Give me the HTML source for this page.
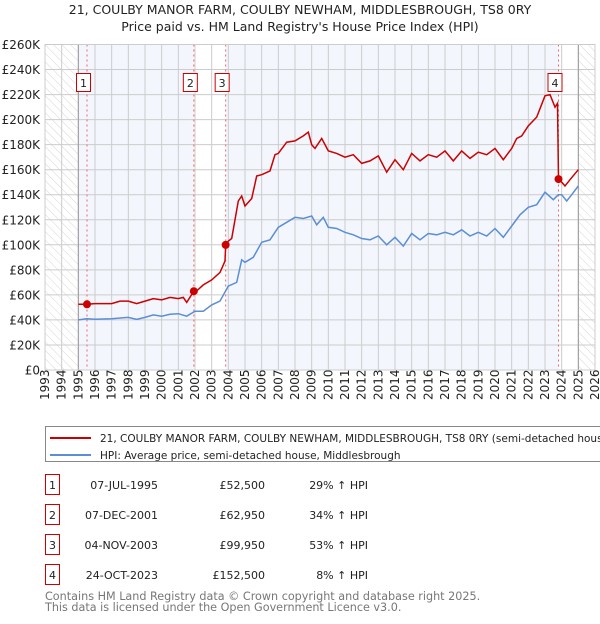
<!DOCTYPE html>
<html><head><meta charset="utf-8"><style>
body{margin:0;background:#fff;width:600px;height:620px;overflow:hidden;font-family:"DejaVu Sans","Liberation Sans",sans-serif;}
svg text{font-family:"DejaVu Sans","Liberation Sans",sans-serif;}
</style></head><body>
<svg id="chart" width="600" height="620" xmlns="http://www.w3.org/2000/svg">
<defs><pattern id="hatch" width="6" height="6" patternUnits="userSpaceOnUse" patternTransform="rotate(-45)"><line x1="0" y1="0" x2="0" y2="6" stroke="#ccc" stroke-width="0.8"/></pattern></defs>
<text x="300" y="14" text-anchor="middle" font-size="12.5" fill="#222">21, COULBY MANOR FARM, COULBY NEWHAM, MIDDLESBROUGH, TS8 0RY</text>
<text x="300" y="31" text-anchor="middle" font-size="12.5" fill="#222">Price paid vs. HM Land Registry's House Price Index (HPI)</text>
<g id="plot"></g>
<rect x="45.5" y="426.5" width="580" height="35" fill="#fff" stroke="#888"/>
<line x1="50" y1="438" x2="91" y2="438" stroke="#cc0000" stroke-width="2"/>
<text x="100" y="442" font-size="10.5" fill="#222">21, COULBY MANOR FARM, COULBY NEWHAM, MIDDLESBROUGH, TS8 0RY (semi-detached house)</text>
<line x1="50" y1="455" x2="91" y2="455" stroke="#5b8ed6" stroke-width="2"/>
<text x="100" y="459" font-size="10.5" fill="#222">HPI: Average price, semi-detached house, Middlesbrough</text>
<g id="table" font-size="11" fill="#222"></g>
<text x="45" y="600" font-size="11.2" fill="#777">Contains HM Land Registry data © Crown copyright and database right 2025.</text>
<text x="45" y="611" font-size="11.2" fill="#777">This data is licensed under the Open Government Licence v3.0.</text>
</svg>
<script>
const hpiYears=[1995,1995.5,1996,1997,1998,1998.5,1999,1999.5,2000,2000.5,2001,2001.5,2002,2002.5,2003,2003.5,2004,2004.5,2004.8,2005,2005.5,2006,2006.5,2007,2007.5,2008,2008.5,2009,2009.3,2009.7,2010,2010.5,2011,2011.5,2012,2012.5,2013,2013.5,2014,2014.5,2015,2015.5,2016,2016.5,2017,2017.5,2018,2018.5,2019,2019.5,2020,2020.5,2021,2021.5,2022,2022.5,2023,2023.5,2023.8,2024,2024.3,2024.6,2025];
const hpiValues=[40,41,40.5,41,42,40.5,42,44,43,44.5,45,43,47,47,52,55,67,70,88,86,90,102,104,114,118,122,121,123,116,122,114,113,110,108,105,104,107,100,106,99,109,104,109,108,110,108,112,107,110,107,113,106,115,124,130,132,142,136,140,140,135,140,147];
const priceYears=[1995,1995.52,1996,1997,1997.5,1998,1998.5,1999,1999.5,2000,2000.5,2001,2001.3,2001.5,2001.93,2002,2002.5,2003,2003.5,2003.8,2003.84,2004,2004.2,2004.6,2004.8,2005,2005.4,2005.7,2006,2006.5,2006.8,2007,2007.5,2008,2008.5,2008.8,2009,2009.2,2009.6,2010,2010.5,2011,2011.5,2012,2012.5,2013,2013.5,2014,2014.5,2015,2015.5,2016,2016.5,2017,2017.5,2018,2018.5,2019,2019.5,2020,2020.5,2021,2021.3,2021.6,2022,2022.5,2023,2023.3,2023.6,2023.75,2023.81,2024,2024.2,2024.5,2025];
const priceValues=[52.5,52.5,53,53,55,55,53,55,57,56,58,57,58,54,62.95,62,68,72,78,87,99.95,103,105,135,139,131,137,155,156,159,172,173,182,183,187,190,180,177,185,175,173,170,172,165,167,171,158,168,160,173,167,172,170,175,167,175,169,174,172,177,168,177,185,187,195,202,219,220,210,213,152.5,150,147,152,160];
const saleLabels=["1","2","3","4"];
const saleYears=[1995.52,2001.93,2003.84,2023.81];
const saleValues=[52.5,62.95,99.95,152.5];
const saleDates=["07-JUL-1995","07-DEC-2001","04-NOV-2003","24-OCT-2023"];
const salePrices=["£52,500","£62,950","£99,950","£152,500"];
const salePcts=["29% \u2191 HPI","34% \u2191 HPI","53% \u2191 HPI","8% \u2191 HPI"];
const yTicks=[0,20,40,60,80,100,120,140,160,180,200,220,240,260];
const yTickLabels=["£0","£20K","£40K","£60K","£80K","£100K","£120K","£140K","£160K","£180K","£200K","£220K","£240K","£260K"];
const xMin=1993,xMax=2026;
const L=45,R=595,T=44.5,B=370;
const X=y=>L+(y-xMin)/(xMax-xMin)*(R-L);
const Y=v=>B-v/260*(B-T);
const NS="http://www.w3.org/2000/svg";
const plot=document.getElementById('plot');
function mk(tag,attrs,parent){const e=document.createElementNS(NS,tag);for(const k in attrs)e.setAttribute(k,attrs[k]);(parent||plot).appendChild(e);return e;}
let r=mk('rect',{x:L,y:T,width:R-L,height:B-T,fill:'#fff'});


const bands=[[1995,saleYears[1]],[saleYears[2],saleYears[3]]];
bands.forEach(b=>{const e=mk('rect',{x:X(b[0]),y:T,width:X(b[1])-X(b[0]),height:B-T,fill:'#f3f6fd'});

});
[[xMin,1995],[2025,xMax]].forEach(b=>{const e=mk('rect',{x:X(b[0]),y:T,width:X(b[1])-X(b[0]),height:B-T,fill:'url(#hatch)'});

});
for(let yr=xMin;yr<=xMax;yr++){const e=mk('line',{x1:X(yr),x2:X(yr),y1:T,y2:B,stroke:'#ccc','stroke-width':1});


const t=mk('text',{x:0,y:0,transform:`translate(${X(yr)+4},400) rotate(-90)`,'font-size':12,fill:'#222'});t.textContent=yr;

}
yTicks.forEach((v,i)=>{const e=mk('line',{x1:L,x2:R,y1:Y(v),y2:Y(v),stroke:'#ccc','stroke-width':1});


const t=mk('text',{x:L-5,y:Y(v)+4.5,'text-anchor':'end','font-size':12,fill:'#222'});t.textContent=yTickLabels[i];

});
[1995,2025].forEach(yr=>{const e=mk('line',{x1:X(yr),x2:X(yr),y1:T,y2:B,stroke:'#999','stroke-width':1});

});
saleYears.forEach(sy=>{const e=mk('line',{x1:X(sy),x2:X(sy),y1:T,y2:B,stroke:'#e66','stroke-width':1,'stroke-dasharray':'2,3'});

});
function path(xs,vs){return xs.map((x,i)=>(i?'L':'M')+X(x).toFixed(1)+','+Y(vs[i]).toFixed(1)).join('');}
let hp=mk('path',{d:path(hpiYears,hpiValues),fill:'none',stroke:'#5b8ed6','stroke-width':1.5});


let pp=mk('path',{d:path(priceYears,priceValues),fill:'none',stroke:'#cc0000','stroke-width':1.5});


saleYears.forEach((sy,i)=>{const c=mk('circle',{cx:X(sy),cy:Y(saleValues[i]),r:4,fill:'#cc0000'});


const bx=mk('rect',{x:X(sy)-10.5,y:73.5,width:14,height:18,fill:'#fff',stroke:'#cc0000'});


const t=mk('text',{x:X(sy)-3.5,y:87,'text-anchor':'middle','font-size':11,fill:'#222'});t.textContent=saleLabels[i];

});
let fr=mk('rect',{x:L,y:T,width:R-L,height:B-T,fill:'none',stroke:'#ccc'});


const tb=document.getElementById('table');
saleLabels.forEach((lab,i)=>{const cy=485+i*30;
const g=mk('g',{},tb);


mk('rect',{x:45.5,y:cy-10.5,width:14,height:20,fill:'#fff',stroke:'#cc0000'},g);
const a=mk('text',{x:52.5,y:cy+4,'text-anchor':'middle'},g);a.textContent=lab;
const d=mk('text',{x:158,y:cy+4,'text-anchor':'end'},g);d.textContent=saleDates[i];
const p=mk('text',{x:265,y:cy+4,'text-anchor':'end'},g);p.textContent=salePrices[i];
const q=mk('text',{x:368,y:cy+4,'text-anchor':'end'},g);q.textContent=salePcts[i];});
</script>
</body></html>
